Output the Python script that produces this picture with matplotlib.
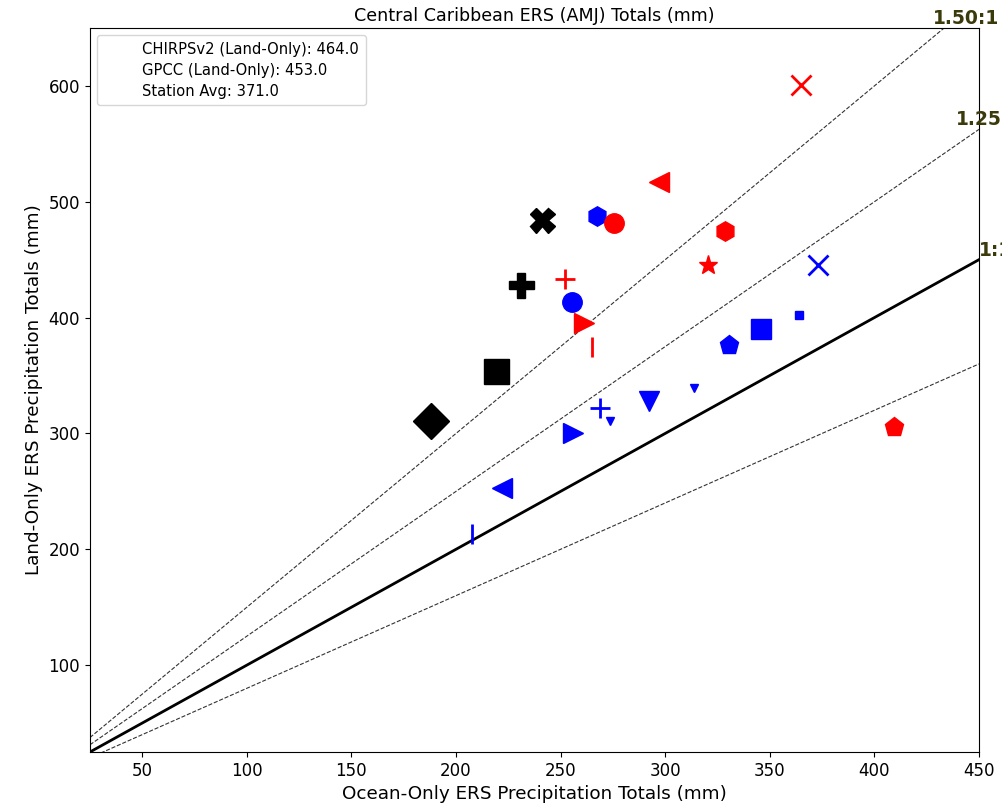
import matplotlib
matplotlib.use("Agg")
import matplotlib.pyplot as plt
from matplotlib.lines import Line2D

title = "Central Caribbean ERS (AMJ) Totals (mm)"
legend_labels = ["CHIRPSv2 (Land-Only): 464.0", "GPCC (Land-Only): 453.0", "Station Avg: 371.0"]

# Station group markers (black = station/big)
black_x = [188, 219, 231, 241]
black_y = [311, 354, 428, 484]
black_m = ["D", "s", "P", "X"]

blue_x = [267.6, 255.6, 269, 273.8, 256, 222, 207.8, 292.5, 314, 330.7, 345.6, 363.8, 373.3]
blue_y = [488, 413.8, 322.4, 311, 300, 253, 213, 327.6, 339, 376.7, 390.5, 402.6, 445.7]
blue_m = ["h", "o", "+", "v", ">", "<", "|", "v", "v", "p", "s", "s", "x"]
blue_s = [14, 14, 14, 6, 14, 14, 14, 14, 6, 14, 14, 6, 14]

red_x = [365, 297, 275.7, 328.8, 320.7, 252.3, 261.4, 265, 409.2]
red_y = [601, 517, 482, 475, 445.7, 433.6, 395.7, 375, 306]
red_m = ["x", "<", "o", "h", "*", "+", ">", "|", "p"]
red_s = [14, 14, 14, 14, 14, 14, 14, 14, 14]

ratios = [1.0, 1.25, 1.5, 0.8]
ratio_labels = ["1:1", "1.25:1", "1.50:1"]

fig = plt.figure(figsize=(10.03, 8.10), dpi=100)
ax = fig.add_axes([0.0897, 0.0716, 0.976 - 0.0897, 0.9654 - 0.0716])

xmin, xmax = 25, 450
ymin, ymax = 25, 650
xs = [xmin, xmax]
for r in ratios:
    if r == 1.0:
        ax.plot(xs, [r * v for v in xs], color="black", lw=2, zorder=1)
    else:
        ax.plot(xs, [r * v for v in xs], color="#333333", lw=0.8, ls="--", zorder=1)

for x, y, m in zip(black_x, black_y, black_m):
    ax.plot(x, y, marker=m, color="black", ms=18, ls="none", zorder=3)
for x, y, m, s in zip(blue_x, blue_y, blue_m, blue_s):
    ax.plot(x, y, marker=m, color="blue", ms=s, ls="none", mew=2 if m in "+x|" else 1, zorder=3)
for x, y, m, s in zip(red_x, red_y, red_m, red_s):
    ax.plot(x, y, marker=m, color="red", ms=s, ls="none", mew=2 if m in "+x|" else 1, zorder=3)

ax.set_xlim(xmin, xmax)
ax.set_ylim(ymin, ymax)
ax.set_xticks([50, 100, 150, 200, 250, 300, 350, 400, 450])
ax.set_yticks([100, 200, 300, 400, 500, 600])
ax.tick_params(labelsize=12)
ax.set_xlabel("Ocean-Only ERS Precipitation Totals (mm)", fontsize=13.2)
ax.set_ylabel("Land-Only ERS Precipitation Totals (mm)", fontsize=13.2)
ax.set_title(title, fontsize=12.6, pad=5)

lab_color = "#3b3a0a"
lab_fs = 13.5
ax.text(450, 450, ratio_labels[0], color=lab_color, fontweight="bold", fontsize=lab_fs,
        ha="left", va="bottom", clip_on=False)
ax.text(439, 562.5, ratio_labels[1], color=lab_color, fontweight="bold", fontsize=lab_fs,
        ha="left", va="bottom", clip_on=False)
ax.text(428, 650, ratio_labels[2], color=lab_color, fontweight="bold", fontsize=lab_fs,
        ha="left", va="bottom", clip_on=False)

handles = [Line2D([], [], ls="none", marker="") for _ in legend_labels]
ax.legend(handles, legend_labels, loc="upper left", fontsize=10.6, handlelength=1.8,
          borderpad=0.45, labelspacing=0.4)

fig.savefig("out.png", dpi=100)
